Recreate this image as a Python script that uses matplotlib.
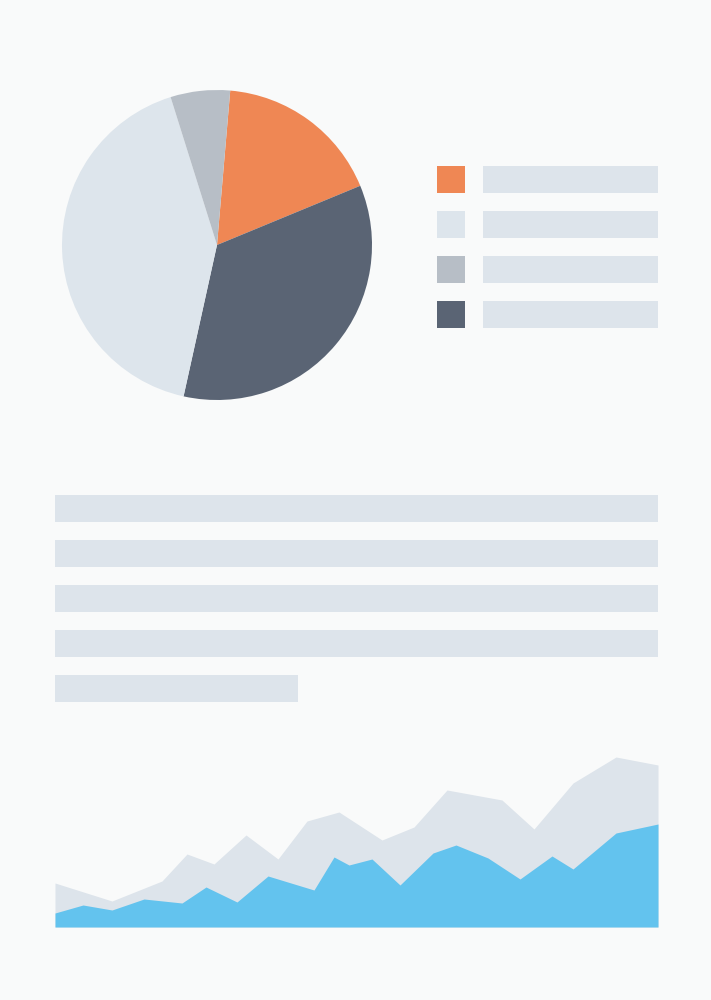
import matplotlib
matplotlib.use("Agg")
import matplotlib.pyplot as plt
from matplotlib.patches import Rectangle

# ---- data ----
pie_labels = ["A", "B", "C", "D"]
pie_values = [17.4, 34.7, 41.7, 6.2]
pie_colors = ["#ef8754", "#5a6474", "#dde5ec", "#b7bec6"]

legend_colors = ["#ef8754", "#dde5ec", "#b7bec6", "#5a6474"]

back_x = [0, 57, 107, 132, 159, 191, 223, 252, 284, 327, 359, 392, 447, 479, 518, 561, 603]
back_y = [44, 26, 46, 73, 63, 92, 68, 106, 115, 87, 100, 137, 127, 98, 144, 170, 162]

front_x = [0, 28, 57, 89, 127, 151, 182, 213, 259, 279, 294, 317, 345, 378, 401, 433, 465, 497, 518, 561, 603]
front_y = [14, 22, 17, 28, 24, 40, 25, 51, 37, 70, 62, 68, 42, 74, 82, 69, 48, 71, 58, 94, 103]

BG = "#f9fafa"
BAR = "#dde4eb"
W, H = 711, 1000

fig = plt.figure(figsize=(W / 100, H / 100), dpi=100)
fig.patch.set_facecolor(BG)

# layout overlay (pixel coordinates)
ov = fig.add_axes([0, 0, 1, 1])
ov.set_xlim(0, W)
ov.set_ylim(H, 0)
ov.axis("off")

# legend
for i, c in enumerate(legend_colors):
    y = 166 + 45 * i
    ov.add_patch(Rectangle((437, y), 28, 27, color=c, lw=0))
    ov.add_patch(Rectangle((483, y), 175, 27, color=BAR, lw=0))

# text placeholder bars
for i in range(4):
    ov.add_patch(Rectangle((55, 495 + 45 * i), 603, 27, color=BAR, lw=0))
ov.add_patch(Rectangle((55, 675), 243, 27, color=BAR, lw=0))

# pie
cx, cy, r = 217, 245, 155
pax = fig.add_axes([(cx - r) / W, 1 - (cy + r) / H, 2 * r / W, 2 * r / H])
pax.pie(pie_values, colors=pie_colors, startangle=85.1, counterclock=False,
        radius=1, wedgeprops=dict(linewidth=0))
pax.set_xlim(-1, 1)
pax.set_ylim(-1, 1)
pax.axis("off")

# area chart
aax = fig.add_axes([55 / W, (H - 927) / H, 603 / W, 187 / H])
aax.fill_between(back_x, 0, back_y, color="#dde4eb", lw=0)
aax.fill_between(front_x, 0, front_y, color="#63c3ee", lw=0)
aax.set_xlim(0, 603)
aax.set_ylim(0, 187)
aax.axis("off")

fig.savefig("out.png", dpi=100, facecolor=BG)
